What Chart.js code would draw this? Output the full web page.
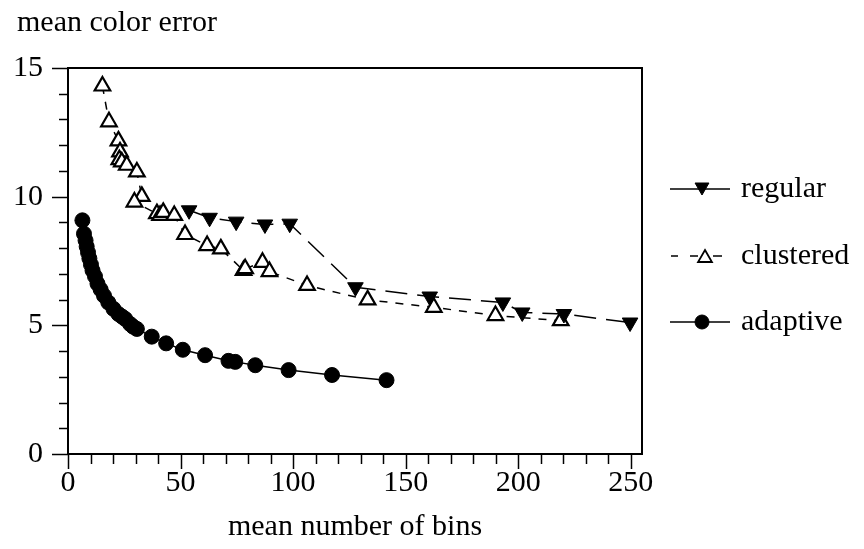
<!DOCTYPE html>
<html><head><meta charset="utf-8">
<style>html,body{margin:0;padding:0;background:#fff}#wrap{width:864px;height:549px;position:relative}</style>
<script src="https://cdn.jsdelivr.net/npm/chart.js@4.4.0/dist/chart.umd.min.js"></script>
</head><body><div id="wrap"><canvas id="c" width="864" height="549"></canvas></div>
<script>
// ---- data ----
const regularX = [53.8, 62.9, 74.7, 87.5, 98.5, 127.7, 160.7, 193.2, 201.8, 220.3, 249.7];
const regularY = [9.47, 9.18, 9.03, 8.92, 8.95, 6.48, 6.12, 5.89, 5.50, 5.44, 5.11];
const clusteredX = [15.3, 18.2, 22.4, 23.1, 22.8, 23.9, 26.1, 30.6, 32.8, 29.5, 39.5, 40.9, 42.3, 47.2, 52.0, 61.8, 67.9, 78.0, 78.7, 86.4, 89.5, 106.2, 133.1, 162.5, 189.9, 218.9];
const clusteredY = [14.30, 12.91, 12.17, 11.74, 11.44, 11.35, 11.22, 10.96, 10.01, 9.79, 9.34, 9.27, 9.39, 9.27, 8.53, 8.10, 7.97, 7.13, 7.20, 7.45, 7.09, 6.55, 5.99, 5.70, 5.38, 5.18];
const adaptiveX = [6.4, 7.1, 7.8, 8.3, 8.9, 9.5, 10.2, 10.9, 12.0, 13.1, 14.5, 16.0, 17.9, 20.2, 22.4, 24.0, 25.4, 27.6, 28.9, 30.6, 37.2, 43.6, 51.0, 60.9, 71.3, 74.3, 83.2, 98.0, 117.3, 141.5];
const adaptiveY = [9.08, 8.56, 8.30, 8.06, 7.83, 7.60, 7.36, 7.13, 6.90, 6.62, 6.39, 6.15, 5.89, 5.64, 5.44, 5.34, 5.25, 5.05, 4.95, 4.86, 4.56, 4.30, 4.05, 3.84, 3.62, 3.58, 3.45, 3.26, 3.07, 2.87];
const seriesNames = ['regular', 'clustered', 'adaptive'];
const xTickValues = [0, 50, 100, 150, 200, 250];
const yTickValues = [0, 5, 10, 15];
const xTitle = 'mean number of bins';
const yTitle = 'mean color error';

const FONT = '"Liberation Serif", "Times New Roman", serif';
const FS = 30;
const toPts = (xs, ys) => xs.map((x, i) => ({x, y: ys[i]}));

const styles = [
  {dash: [22, 10], pointStyle: 'triangle', rotation: 180, radius: 9, fill: '#000', bw: 1},
  {dash: [8, 8], pointStyle: 'triangle', rotation: 0, radius: 9, fill: '#fff', bw: 2.2},
  {dash: [], pointStyle: 'circle', rotation: 0, radius: 7.5, fill: '#000', bw: 1}
];
const sets = [toPts(regularX, regularY), toPts(clusteredX, clusteredY), toPts(adaptiveX, adaptiveY)];

function drawMarker(ctx, st, x, y, r) {
  ctx.save();
  ctx.beginPath();
  if (st.pointStyle === 'circle') {
    ctx.arc(x, y, r, 0, Math.PI * 2);
  } else {
    let rad = st.rotation * Math.PI / 180;
    for (let k = 0; k < 3; k++) {
      const px = x + Math.sin(rad) * r, py = y - Math.cos(rad) * r;
      if (k === 0) ctx.moveTo(px, py); else ctx.lineTo(px, py);
      rad += 2 * Math.PI / 3;
    }
    ctx.closePath();
  }
  ctx.fillStyle = st.fill; ctx.fill();
  ctx.lineWidth = Math.min(st.bw, 1.8); ctx.strokeStyle = '#000'; ctx.setLineDash([]); ctx.stroke();
  ctx.restore();
}

const decor = {
  id: 'decor',
  afterDraw(chart) {
    const ctx = chart.ctx, a = chart.chartArea;
    const xs = chart.scales.x, ys = chart.scales.y;
    ctx.save();
    ctx.strokeStyle = '#000';
    ctx.lineWidth = 2;
    ctx.strokeRect(a.left, a.top, a.right - a.left, a.bottom - a.top);
    ctx.lineWidth = 1.5;
    for (let v = 0; v <= xs.max; v += 10) {
      const p = Math.round(xs.getPixelForValue(v)) + 0.5;
      const len = (v % 50 === 0) ? 15 : 10;
      ctx.beginPath(); ctx.moveTo(p, a.bottom); ctx.lineTo(p, a.bottom + len); ctx.stroke();
    }
    for (let v = 0; v <= ys.max; v += 1) {
      const p = Math.round(ys.getPixelForValue(v)) + 0.5;
      const len = (v % 5 === 0) ? 16 : 9;
      ctx.beginPath(); ctx.moveTo(a.left, p); ctx.lineTo(a.left - len, p); ctx.stroke();
    }
    ctx.fillStyle = '#000';
    ctx.font = FS + 'px ' + FONT;
    ctx.textBaseline = 'middle';
    ctx.textAlign = 'left';
    ctx.fillText(yTitle, 17, 23);
    const rowsY = [189, 256, 322];
    seriesNames.forEach((name, i) => {
      const y = rowsY[i], st = styles[i];
      ctx.lineWidth = 1.5;
      ctx.setLineDash([]);
      ctx.beginPath();
      if (i === 1) {
        ctx.moveTo(671, y); ctx.lineTo(678, y);
        ctx.moveTo(690, y); ctx.lineTo(698, y);
        ctx.moveTo(713, y); ctx.lineTo(722, y);
      } else {
        ctx.moveTo(670, y); ctx.lineTo(730, y);
      }
      ctx.stroke();
      const ly = st.pointStyle === 'triangle' ? y + (st.rotation ? -2 : 2) : y;
      drawMarker(ctx, st, i === 1 ? 705 : 702, ly, i === 2 ? 7 : 8);
      ctx.fillStyle = '#000';
      ctx.fillText(name, 741, y);
    });
    ctx.restore();
  }
};

new Chart(document.getElementById('c'), {
  type: 'scatter',
  data: {
    datasets: sets.map((d, i) => ({
      label: seriesNames[i],
      data: d,
      showLine: true,
      borderColor: '#000',
      borderWidth: 1.5,
      borderDash: styles[i].dash,
      pointStyle: styles[i].pointStyle,
      rotation: styles[i].rotation,
      pointRadius: styles[i].radius,
      pointHoverRadius: styles[i].radius,
      pointBackgroundColor: styles[i].fill,
      pointBorderColor: '#000',
      pointBorderWidth: styles[i].bw,
      tension: 0
    }))
  },
  options: {
    responsive: false,
    animation: false,
    devicePixelRatio: 1,
    layout: {padding: {left: 0, top: 68, right: 222, bottom: 0}},
    plugins: {legend: {display: false}, tooltip: {enabled: false}, title: {display: false}},
    scales: {
      x: {
        type: 'linear', min: 0, max: 255,
        grid: {display: false},
        border: {display: true, color: '#000', width: 2},
        ticks: {stepSize: 50, color: '#000', font: {family: FONT, size: FS}, padding: 3, maxRotation: 0},
        afterBuildTicks: s => { s.ticks = xTickValues.map(v => ({value: v})); },
        afterFit: s => { s.height = 95; },
        title: {display: true, text: xTitle, color: '#000', font: {family: FONT, size: FS}, padding: {top: 6}}
      },
      y: {
        type: 'linear', min: 0, max: 15,
        grid: {display: false},
        border: {display: true, color: '#000', width: 2},
        ticks: {stepSize: 5, color: '#000', font: {family: FONT, size: FS}, padding: 17},
        afterBuildTicks: s => { s.ticks = yTickValues.map(v => ({value: v})); },
        afterFit: s => { s.width = 68; }
      }
    }
  },
  plugins: [decor]
});
</script>
</body></html>
